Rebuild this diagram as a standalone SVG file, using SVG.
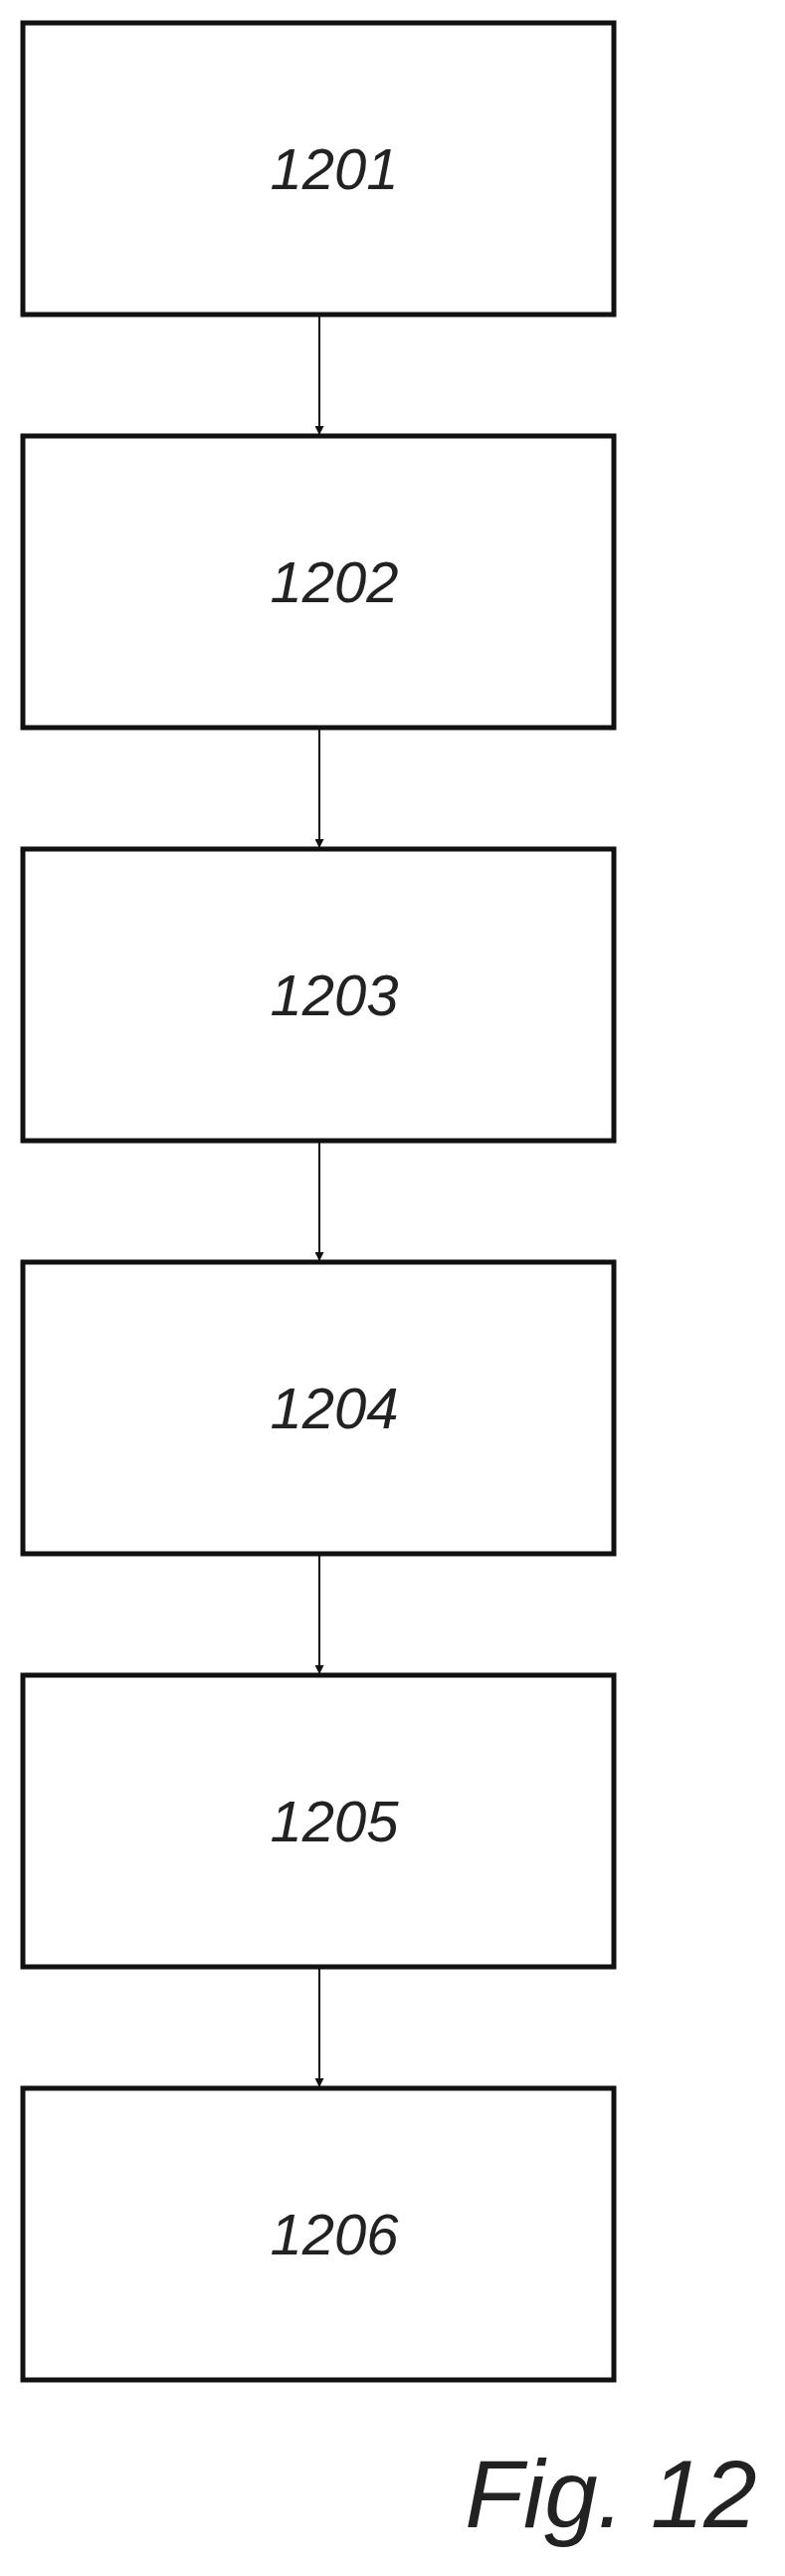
<svg xmlns="http://www.w3.org/2000/svg" width="789" height="2588" viewBox="0 0 789 2588">
<style>
.box{fill:#fff;stroke:#111;stroke-width:5}
.lbl{font-family:"Liberation Sans",Arial,sans-serif;font-style:italic;font-size:58px;text-anchor:middle;fill:#222}
.conn{stroke:#111;stroke-width:2;fill:none;marker-end:url(#ah)}
</style>
<defs><marker id="ah" viewBox="0 0 10 10" refX="10" refY="5" markerWidth="9" markerHeight="9" markerUnits="userSpaceOnUse" orient="auto"><path d="M0,0 L10,5 L0,10 z" fill="#111"/></marker></defs>
<g id="connectors">
<line class="conn" x1="321" y1="316" x2="321" y2="437"/>
<line class="conn" x1="321" y1="731" x2="321" y2="852"/>
<line class="conn" x1="321" y1="1146" x2="321" y2="1267"/>
<line class="conn" x1="321" y1="1561" x2="321" y2="1682"/>
<line class="conn" x1="321" y1="1976" x2="321" y2="2097"/>
</g>
<g id="n1201"><rect class="box" x="23" y="23" width="594" height="293"/><text class="lbl" x="336" y="190">1201</text></g>
<g id="n1202"><rect class="box" x="23" y="438" width="594" height="293"/><text class="lbl" x="336" y="605">1202</text></g>
<g id="n1203"><rect class="box" x="23" y="853" width="594" height="293"/><text class="lbl" x="336" y="1020">1203</text></g>
<g id="n1204"><rect class="box" x="23" y="1268" width="594" height="293"/><text class="lbl" x="336" y="1435">1204</text></g>
<g id="n1205"><rect class="box" x="23" y="1683" width="594" height="293"/><text class="lbl" x="336" y="1850">1205</text></g>
<g id="n1206"><rect class="box" x="23" y="2098" width="594" height="293"/><text class="lbl" x="336" y="2265">1206</text></g>
<text x="614" y="2539" font-family="Liberation Sans,Arial,sans-serif" font-style="italic" font-size="96" text-anchor="middle" fill="#222">Fig. 12</text>
</svg>
